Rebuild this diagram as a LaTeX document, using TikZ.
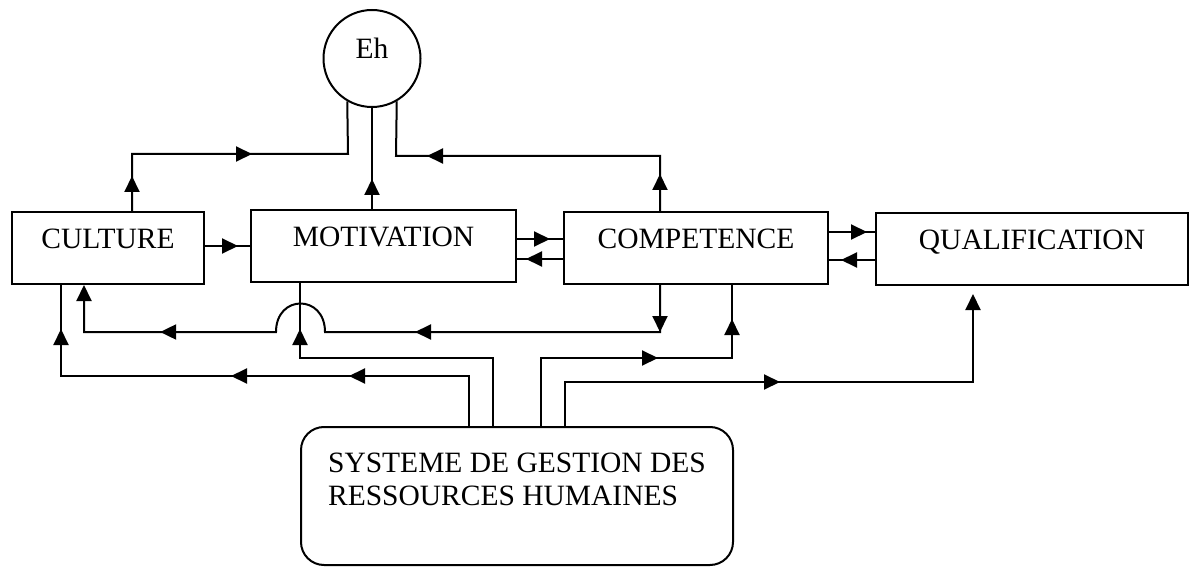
\documentclass[tikz,border=0pt]{standalone}
\usepackage{fontspec}
\setmainfont{Liberation Serif}
\usetikzlibrary{arrows.meta,decorations.markings}
\newcommand\arrtip{\arrow{Triangle[length=16pt,width=15pt]}}
\begin{document}
\begin{tikzpicture}[x=1pt,y=-1pt,
  txt/.style={inner sep=0pt,text height=19.5pt,text depth=19.5pt,font=\fontsize{29.5}{33}\selectfont},
  box/.style={txt,draw,line width=2pt,rectangle,minimum height=72pt},
  roundbox/.style={draw,line width=2pt,rounded corners=23pt,inner sep=0pt,align=left,font=\fontsize{29.5}{33}\selectfont},
  conn/.style={line width=2pt},
  endtip/.style={-{Triangle[length=16pt,width=15pt]}},
  marks/.style={postaction={decorate,decoration={markings,#1}}},
]
\useasboundingbox (0,0) rectangle (1192,567);
% nodes
\node[txt,draw,line width=2pt,circle,minimum size=97pt] (eh) at (372,58.5) {Eh};
\node[box,minimum width=192pt] (cult) at (108,248) {CULTURE};
\node[box,minimum width=265pt] (mot) at (383.5,246) {MOTIVATION};
\node[box,minimum width=264pt] (comp) at (696,248) {COMPETENCE};
\node[box,minimum width=312pt] (qual) at (1032,249) {QUALIFICATION};
\node[roundbox,minimum width=432pt,minimum height=138pt] (sgrh) at (517,496) {SYSTEME DE GESTION DES\\RESSOURCES HUMAINES\\\mbox{}};
% route points
\coordinate (k1) at (132,154);
\coordinate (k2) at (348,154);
\coordinate (k3) at (660,156);
\coordinate (k4) at (396,156);
\coordinate (k5) at (540,239);
\coordinate (k6) at (540,259);
\coordinate (k7) at (850,232);
\coordinate (k8) at (850,260);
\coordinate (b1) at (660,332);
\coordinate (b2) at (325,332);
\coordinate (b3) at (276,332);
\coordinate (b4) at (84,332);
\coordinate (c1) at (493,358);
\coordinate (c2) at (300,358);
\coordinate (d1) at (469,376);
\coordinate (d2) at (61,376);
\coordinate (e1) at (541,358);
\coordinate (e2) at (732,358);
\coordinate (f1) at (565,382);
\coordinate (f2) at (973,382);
% connectors to Eh
\draw[conn,marks={mark=at position 35pt with {\arrtip}, mark=at position 177pt with {\arrtip}}]
  (k1 |- cult.north) -- (k1) -- (k2) -- (eh.240);
\draw[conn,marks={mark=at position 30pt with {\arrtip}}]
  (eh.south |- mot.north) -- (eh.south);
\draw[conn,marks={mark=at position 37pt with {\arrtip}, mark=at position 288pt with {\arrtip}}]
  (k3 |- comp.north) -- (k3) -- (k4) -- (eh.300);
% horizontal links between boxes
\draw[conn,marks={mark=at position 33pt with {\arrtip}}] (cult.east |- mot.west) -- (mot.west);
\draw[conn,marks={mark=at position 33pt with {\arrtip}}] (k5 -| mot.east) -- (k5 -| comp.west);
\draw[conn,marks={mark=at position 37pt with {\arrtip}}] (k6 -| comp.west) -- (k6 -| mot.east);
\draw[conn,marks={mark=at position 38pt with {\arrtip}}] (k7 -| comp.east) -- (k7 -| qual.west);
\draw[conn,marks={mark=at position 34pt with {\arrtip}}] (k8 -| qual.west) -- (k8 -| comp.east);
% competence -> culture with bump
\draw[conn,endtip,marks={mark=at position 47pt with {\arrtip}, mark=at position 292pt with {\arrtip}, mark=at position 582pt with {\arrtip}}]
  (b1 |- comp.south) -- (b1) -- (b2) .. controls +(0,-38) and +(0,-38) .. (b3) -- (b4) -- (b4 |- cult.south);
% from SGRH
\draw[conn,marks={mark=at position 290pt with {\arrtip}}]
  (c1 |- sgrh.north) -- (c1) -- (c2) -- (c2 |- mot.south);
\draw[conn,marks={mark=at position 170pt with {\arrtip}, mark=at position 288pt with {\arrtip}, mark=at position 505pt with {\arrtip}}]
  (d1 |- sgrh.north) -- (d1) -- (d2) -- (d2 |- cult.south);
\draw[conn,marks={mark=at position 185pt with {\arrtip}, mark=at position 298pt with {\arrtip}}]
  (e1 |- sgrh.north) -- (e1) -- (e2) -- (e2 |- comp.south);
\draw[conn,endtip,shorten >=8pt,marks={mark=at position 259pt with {\arrtip}}]
  (f1 |- sgrh.north) -- (f1) -- (f2) -- (f2 |- qual.south);
\end{tikzpicture}
\end{document}
